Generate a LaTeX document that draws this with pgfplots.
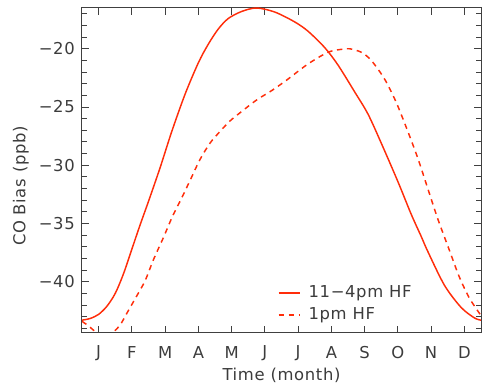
\documentclass[border=0pt]{standalone}
\usepackage{pgfplots}
\pgfplotsset{compat=1.18}
\usepackage{fontspec}
\setmainfont{DejaVu Sans}[LetterSpace=4]
\definecolor{curvered}{RGB}{255,45,10}
\definecolor{axgray}{RGB}{64,64,64}
\definecolor{txtgray}{RGB}{60,60,60}
\begin{document}
\fontsize{12.3}{14}\selectfont
\begin{tikzpicture}
\begin{axis}[
  scale only axis,
  width=299.25pt, height=243.75pt,
  at={(0,0)}, anchor=south west,
  xmin=0.5, xmax=12.5, ymin=-44.4, ymax=-16.5,
  axis line style={axgray, line width=0.75pt},
  every tick/.style={axgray, line width=0.75pt},
  tick align=inside,
  xtick={1,2,3,4,5,6,7,8,9,10,11,12},
  xticklabels={J,F,M,A,M,J,J,A,S,O,N,D},
  major tick length=5.5pt,
  minor tick length=3.6pt,
  ytick={-40,-35,-30,-25,-20},
  yticklabels={−40,−35,−30,−25,−20},
  minor ytick={-44,-43,-42,-41,-39,-38,-37,-36,-34,-33,-32,-31,-29,-28,-27,-26,-24,-23,-22,-21,-19,-18,-17},
  minor xtick={},
  xticklabel style={anchor=center, yshift=-15pt, inner sep=0pt, text=txtgray},
  yticklabel style={anchor=east, inner sep=0pt, xshift=-5.25pt, text=txtgray},
  xlabel={Time (month)},
  ylabel={CO Bias (ppb)},
  xlabel style={at={(axis description cs:0.5,0)}, anchor=center, yshift=-31.5pt, text=txtgray},
  ylabel style={at={(axis description cs:-0.153,0.452)}, anchor=center, text=txtgray},
  legend style={at={(axis description cs:0.49,0.154)}, anchor=north west, draw=none, fill=none,
    inner sep=0pt, row sep=1.5pt, font=\color{txtgray}, column sep=4pt},
  legend cell align=left,
  legend image code/.code={\draw[#1, line width=1.1pt] (0pt,0pt) -- (16pt,0pt);},
]
\addplot[curvered, line width=1.1pt, smooth] coordinates {
(0.5,-43.3) (0.75,-43.15) (1.0,-42.8) (1.25,-42.1) (1.5,-41.0) (1.75,-39.3)
(2.0,-37.2) (2.25,-35.1) (2.5,-33.1) (2.85,-30.2) (3.2,-27.1) (3.6,-23.9)
(4.0,-21.2) (4.3,-19.6) (4.6,-18.3) (4.9,-17.4) (5.3,-16.8) (5.75,-16.5)
(6.3,-16.85) (6.9,-17.7) (7.3,-18.5) (7.8,-19.9) (8.2,-21.4) (8.7,-23.7)
(9.1,-25.6) (9.5,-28.1) (10.0,-31.4) (10.4,-34.2) (10.7,-36.1) (10.9,-37.4)
(11.4,-40.3) (11.9,-42.2) (12.3,-43.1) (12.5,-43.3)
};
\addlegendentry{11−4pm HF}
\addplot[curvered, line width=1.1pt, smooth, dash pattern=on 4pt off 3.5pt] coordinates {
(0.5,-43.4) (0.7,-43.8) (0.95,-44.4) (1.2,-44.75) (1.45,-44.3) (1.65,-43.7)
(1.85,-42.7) (2.15,-41.2) (2.4,-39.9) (2.65,-38.1) (2.95,-36.2) (3.22,-34.4)
(3.5,-32.8) (3.8,-31.0) (4.05,-29.5) (4.35,-28.1) (4.65,-27.1) (4.95,-26.2)
(5.25,-25.5) (5.75,-24.4) (6.2,-23.6) (6.65,-22.7) (7.3,-21.3) (7.9,-20.3)
(8.3,-20.05) (8.55,-20.0) (8.9,-20.3) (9.2,-21.0) (9.6,-22.6) (9.95,-24.6)
(10.3,-27.1) (10.6,-29.4) (10.9,-32.0) (11.2,-34.6) (11.55,-37.3) (11.85,-39.6)
(12.15,-41.4) (12.45,-42.7) (12.5,-42.9)
};
\addlegendentry{1pm HF}
\end{axis}
\pgfresetboundingbox
\path (-61.5pt,-39pt) rectangle (300pt,249.75pt);
\end{tikzpicture}
\end{document}
